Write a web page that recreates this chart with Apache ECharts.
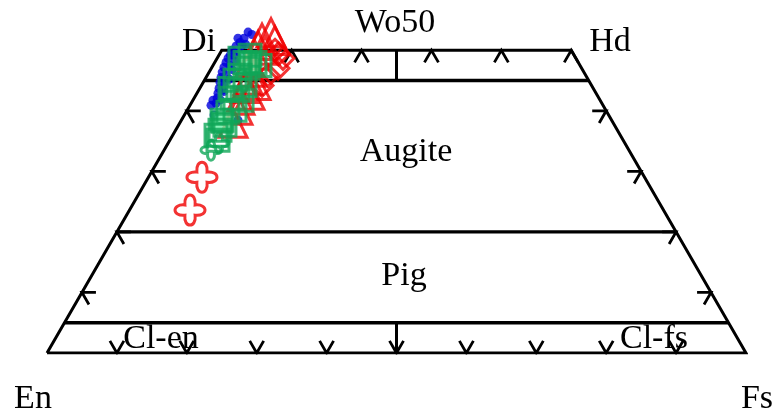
<!DOCTYPE html>
<html><head><meta charset="utf-8">
<script src="https://cdn.jsdelivr.net/npm/echarts/dist/echarts.min.js"></script>
<style>html,body{margin:0;padding:0;background:#fff}#c{width:778px;height:414px}</style>
</head><body><div id="c"></div>
<script>
// Pyroxene compositions as [Fs, Wo] (mol %), En = 100 - Fs - Wo
const blueSamples = [
  [2.27,53.0],[2.18,52.0],[1.96,51.3],[1.71,50.7],[1.47,50.0],[1.6,49.2],[1.55,48.7],
  [1.61,48.0],[1.72,47.2],[1.86,46.4],[2.14,45.5],[2.4,44.7],[2.76,43.7],[3.01,42.9],
  [3.28,42.1],[3.55,41.25],[1.32,52.0],[2.5,50.8],[2.17,49.2],[2.43,47.5],[2.67,45.9],
  [3.22,44.2],[3.34,43.4],[2.87,41.75],[3.01,40.9],[4.25,39.3],[8.1,38.45],
  [3.0,52.6],[2.9,51.0],[2.8,49.6],[2.9,48.2],[3.1,46.8],[3.5,45.2],[3.7,43.2],[3.9,41.8]
];
const redTriangles = [
  [4.76,52.0],[4.79,50.8],[6.19,50.0],[5.17,49.17],[5.04,48.0],[6.15,46.37],[6.24,45.05],
  [6.48,43.7],[7.76,42.57],[6.74,41.75],[7.64,37.95],[7.27,40.1],[7.8,44.2],[5.6,52.9],[6.8,51.6]
];
const redDiamonds = [[7.62,50.0],[9.42,48.68],[9.53,47.03],[8.68,45.87],[8.66,44.2],[8.4,49.4]];
const redCrosses = [[7.65,29.04],[8.66,23.6]];
const greenSquares = [
  [4.46,49.17],[5.76,48.0],[5.24,47.03],[4.68,45.87],[6.23,44.2],[5.62,43.4],[5.43,42.08],
  [7.03,41.75],[6.85,40.1],[6.0,39.77],[6.66,37.6],[5.82,38.45],[6.35,36.8],[6.2,35.97],
  [6.89,35.15],[4.33,43.7],[4.38,45.05],[6.72,47.5],[4.33,48.0],[3.27,48.68]
];
const greenFilled = [[5.04,48.0],[5.98,38.12]];
const greenCrosses = [[6.71,33.5],[7.28,34.65]];

// Diagram structure (mol %)
const fieldBoundariesWo = [5, 20, 45];
const sideTicksWo = [10, 20, 30, 40];
const bottomTicksFs = [10, 20, 30, 40, 50, 60, 70, 80, 90];
const topTicksFs = [10, 20, 30, 40, 50];
const labels = ['Wo50','Di','Hd','Augite','Pig','Cl-en','Cl-fs','En','Fs'];

const T = 2; // tick length in %
const proj = p => [p[0] + p[1] / 2, p[1]];

const RED = '#f00000', GREEN = '#0fa658', BLUE = '#0000dc';
const series = [];
function poly(pts, w) {
  series.push({type:'line', data: pts.map(proj), symbol:'none', silent:true,
    lineStyle:{color:'#000', width:w, cap:'butt', join:'miter'}, z:1, animation:false});
}
poly([[0,0],[0,50],[50,50],[100,0],[0,0]], 3);
fieldBoundariesWo.forEach(w => poly([[0,w],[100-w,w]], 3.4));
poly([[27.5,45],[25,50]], 3);
poly([[47.5,5],[50,0]], 3);
sideTicksWo.forEach(w => {
  poly([[T,w],[0,w],[T,w-T]], 2.8);
  poly([[100-w-T,w],[100-w,w],[100-w,w-T]], 2.8);
});
bottomTicksFs.forEach(f => poly([[f-T,T],[f,0],[f,T]], 2.8));
topTicksFs.forEach(f => poly([[f,50-T],[f,50],[f+T,50-T]], 2.8));

const crossPath = 'path://M3.6,3.6 C3.2,0 6.8,0 6.4,3.6 C10,3.2 10,6.8 6.4,6.4 C6.8,10 3.2,10 3.6,6.4 C0,6.8 0,3.2 3.6,3.6 Z';
function sc(data, symbol, size, color, fill, bw) {
  series.push({type:'scatter', data:data.map(proj), symbol, symbolSize:size, clip:false,
    itemStyle:{color:fill, borderColor:color, borderWidth:bw}, z:3, animation:false});
}
const NONE = 'rgba(0,0,0,0)';
sc(blueSamples, 'circle', 9, BLUE, BLUE, 0);
sc(redDiamonds, 'diamond', 22, RED, NONE, 3);
sc(redTriangles, 'triangle', 28, RED, NONE, 3);
sc(greenFilled, 'rect', 20, GREEN, '#6cf0a8', 3);
sc(greenSquares, 'rect', 22, GREEN, NONE, 3);
sc(greenCrosses, crossPath, 20, GREEN, NONE, 3);
sc(redCrosses, crossPath, 30, RED, NONE, 3);

const labelPos = [[395,23],[199,42],[610,42],[406,152],[404,276],[161,339],[654,339],[33,399],[757,399]];
const graphic = labels.map((t,i) => ({type:'text', x:labelPos[i][0], y:labelPos[i][1], z:10,
  style:{text:t, fill:'#000', font:'34px "Liberation Serif"', textAlign:'center', textVerticalAlign:'middle'}}));

const chart = echarts.init(document.getElementById('c'));
chart.setOption({
  animation:false,
  grid:{left:47, right:32, bottom:61, top:20},
  xAxis:{type:'value', min:0, max:100, show:false},
  yAxis:{type:'value', min:0, max:55, show:false},
  graphic,
  series
});
</script></body></html>
